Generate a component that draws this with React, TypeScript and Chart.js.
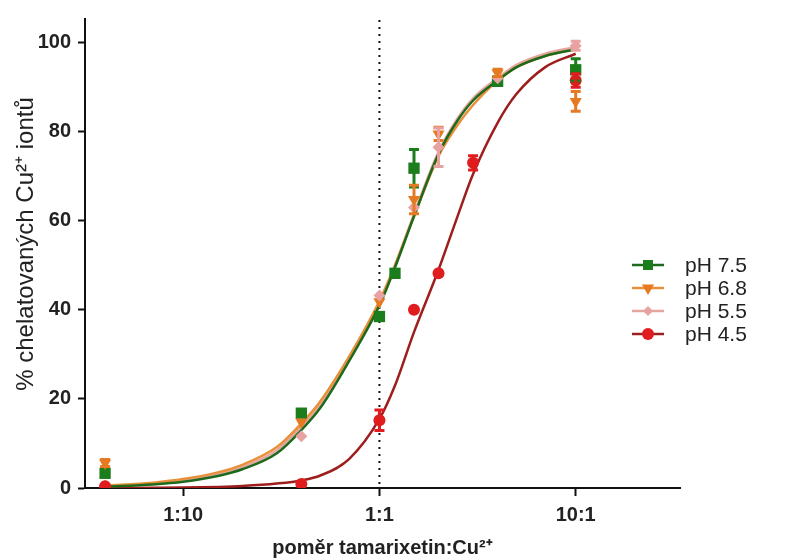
import React, { useEffect, useRef } from "react";
import { Chart, registerables } from "chart.js";

Chart.register(...registerables);

// ---- Data ----
const xTickValues = [0.1, 1, 10];
const xTickLabels = ["1:10", "1:1", "10:1"];
const yTickValues = [0, 20, 40, 60, 80, 100];

const seriesNames = ["pH 7.5", "pH 6.8", "pH 5.5", "pH 4.5"];
const yTitle = "% chelatovaných Cu²⁺ iontů";
const xTitle = "poměr tamarixetin:Cu²⁺";

// measured points
const ph75X = [0.04, 0.4, 1, 1.2, 1.5, 4, 10];
const ph75Y = [3.3, 16.8, 38.5, 48.2, 71.8, 91.3, 93.9];
const ph75Err = [0, 0, 0, 0, 4.2, 0, 2.5];

const ph68X = [0.04, 0.4, 1, 1.5, 2, 4, 10];
const ph68Y = [5.6, 14.8, 41.8, 64.8, 79.5, 93.2, 86.8];
const ph68Err = [0.8, 0, 0, 3.2, 1.5, 0.8, 2.2];

const ph55X = [0.04, 0.4, 1, 1.5, 2, 4, 10];
const ph55Y = [0.5, 11.6, 43.2, 63, 76.5, 92, 99.3];
const ph55Err = [0, 0, 0, 0, 4.3, 0, 1];

const ph45X = [0.04, 0.4, 1, 1.5, 2, 3, 10];
const ph45Y = [0.4, 0.9, 15.2, 40, 48.2, 73, 91.5];
const ph45Err = [0, 0, 2.3, 0, 0, 1.6, 1.5];

// fitted curves, sampled by reading the drawn lines
const curveX = [0.04, 0.07, 0.1, 0.15, 0.2, 0.3, 0.4, 0.5, 0.7, 1, 1.2, 1.5, 2, 2.5, 3, 4, 5, 7, 10];
const curve75 = [0.3, 0.8, 1.4, 2.7, 4.2, 7.8, 13, 18, 28.5, 41, 49.5, 61, 75, 82.5, 87, 91.5, 94.5, 97, 98.5];
const curve68 = [0.5, 1.2, 2.0, 3.5, 5.2, 9.2, 14.5, 19.5, 29.5, 42, 50, 61, 74.5, 81.5, 86, 91.5, 94.5, 97, 98.5];
const curve55 = [0.4, 1.0, 1.7, 3.1, 4.7, 8.5, 13.8, 18.8, 29, 41.5, 50, 61.5, 75.5, 83, 87.5, 92, 95, 97.5, 99];
const curve45 = [0, 0.05, 0.1, 0.25, 0.45, 1.0, 1.7, 2.8, 6.5, 15.5, 23, 35, 49, 61, 70.5, 82, 88.5, 94.5, 97.5];

// ---- styles ----
const markerColors = ["#1b7d1b", "#e67a22", "#e8a2a2", "#e01c1e"];
const lineColors = ["#1d6a1d", "#e8903a", "#e6a6a0", "#9e1d1d"];
const markerStyles = ["rect", "triangle", "rectRot", "circle"];
const markerRot = [0, 180, 0, 0];
const markerRadius = [8, 7, 6, 6];
const FONT = "'Liberation Sans', Arial, sans-serif";

const pts = (xs: number[], ys: number[]) => xs.map((x, i) => ({ x, y: ys[i] }));

export default function App() {
  const ref = useRef<HTMLCanvasElement | null>(null);

  useEffect(() => {
    const canvas = ref.current;
    if (!canvas) return;

    const pointSets = [
      { xs: ph75X, ys: ph75Y, err: ph75Err },
      { xs: ph68X, ys: ph68Y, err: ph68Err },
      { xs: ph55X, ys: ph55Y, err: ph55Err },
      { xs: ph45X, ys: ph45Y, err: ph45Err },
    ];
    const curves = [curve75, curve68, curve55, curve45];

    const datasets: any[] = [];
    pointSets.forEach((s, i) => {
      datasets.push({
        type: "scatter",
        label: seriesNames[i],
        data: pts(s.xs, s.ys),
        errors: s.err,
        pointStyle: markerStyles[i],
        pointRotation: markerRot[i],
        pointRadius: markerRadius[i],
        pointBackgroundColor: markerColors[i],
        pointBorderColor: markerColors[i],
        pointBorderWidth: 0,
        showLine: false,
        order: 1 + (3 - i) * 0.1,
      });
    });
    curves.forEach((c, i) => {
      datasets.push({
        type: "line",
        label: seriesNames[i] + " fit",
        data: pts(curveX, c),
        borderColor: lineColors[i],
        borderWidth: 2.5,
        pointRadius: 0,
        cubicInterpolationMode: "monotone",
        fill: false,
        order: 5 + i * 0.1,
      });
    });

    const overlay = {
      id: "overlay",
      beforeDatasetsDraw(chart: any) {
        const { ctx, chartArea, scales } = chart;
        const x1 = scales.x.getPixelForValue(1);
        ctx.save();
        ctx.strokeStyle = "#111";
        ctx.lineWidth = 2;
        ctx.setLineDash([2, 5]);
        ctx.beginPath();
        ctx.moveTo(x1, chartArea.bottom - 4);
        ctx.lineTo(x1, chartArea.top);
        ctx.stroke();
        ctx.restore();
      },
      afterDatasetsDraw(chart: any) {
        const { ctx, scales } = chart;
        ctx.save();
        chart.data.datasets.forEach((ds: any) => {
          if (!ds.errors) return;
          ds.data.forEach((p: any, k: number) => {
            const e = ds.errors[k];
            if (!e) return;
            const px = scales.x.getPixelForValue(p.x);
            const yt = scales.y.getPixelForValue(p.y + e);
            const yb = scales.y.getPixelForValue(p.y - e);
            ctx.strokeStyle = ds.pointBackgroundColor;
            ctx.lineWidth = 3;
            ctx.beginPath();
            ctx.moveTo(px, yt);
            ctx.lineTo(px, yb);
            ctx.moveTo(px - 5, yt);
            ctx.lineTo(px + 5, yt);
            ctx.moveTo(px - 5, yb);
            ctx.lineTo(px + 5, yb);
            ctx.stroke();
          });
        });
        ctx.restore();
      },
      afterDraw(chart: any) {
        const { ctx } = chart;
        ctx.save();
        // y axis title
        ctx.save();
        ctx.translate(26, 244);
        ctx.rotate(-Math.PI / 2);
        ctx.fillStyle = "#222";
        ctx.font = `24px ${FONT}`;
        ctx.textAlign = "center";
        ctx.textBaseline = "middle";
        ctx.fillText(yTitle, 0, 0);
        ctx.restore();

        // legend
        const lx0 = 632, lx1 = 664, tx = 685;
        const y0 = 265, dy = 23;
        seriesNames.forEach((name, i) => {
          const y = y0 + i * dy;
          ctx.strokeStyle = lineColors[i];
          ctx.lineWidth = 2.5;
          ctx.beginPath();
          ctx.moveTo(lx0, y);
          ctx.lineTo(lx1, y);
          ctx.stroke();
          const mx = (lx0 + lx1) / 2;
          ctx.fillStyle = markerColors[i];
          ctx.beginPath();
          if (markerStyles[i] === "rect") {
            ctx.rect(mx - 5, y - 5, 10, 10);
          } else if (markerStyles[i] === "triangle") {
            const r = 7;
            ctx.moveTo(mx - r * 0.87, y - r * 0.5);
            ctx.lineTo(mx + r * 0.87, y - r * 0.5);
            ctx.lineTo(mx, y + r);
            ctx.closePath();
          } else if (markerStyles[i] === "rectRot") {
            ctx.moveTo(mx, y - 5);
            ctx.lineTo(mx + 5, y);
            ctx.lineTo(mx, y + 5);
            ctx.lineTo(mx - 5, y);
            ctx.closePath();
          } else {
            ctx.arc(mx, y, 6, 0, Math.PI * 2);
          }
          ctx.fill();
          ctx.fillStyle = "#222";
          ctx.font = `21px ${FONT}`;
          ctx.textBaseline = "middle";
          ctx.textAlign = "left";
          ctx.fillText(name, tx, y + 1);
        });
        ctx.restore();
      },
    };

    const chart = new Chart(canvas, {
      type: "scatter",
      data: { datasets },
      options: {
        animation: false,
        responsive: false,
        maintainAspectRatio: false,
        layout: { padding: { left: 0, top: 15, right: 122, bottom: 0 } },
        plugins: { legend: { display: false }, tooltip: { enabled: false } },
        scales: {
          x: {
            type: "logarithmic",
            min: 0.0316,
            max: 34,
            afterBuildTicks(scale: any) {
              scale.ticks = xTickValues.map((v) => ({ value: v }));
            },
            afterFit(scale: any) {
              scale.height = 72;
            },
            ticks: {
              autoSkip: false,
              maxRotation: 0,
              padding: 7,
              color: "#222",
              font: { family: FONT, size: 20, weight: "bold" },
              callback: (v: any) => {
                const i = xTickValues.indexOf(Number(v));
                return i >= 0 ? xTickLabels[i] : "";
              },
            },
            grid: {
              display: true,
              drawOnChartArea: false,
              drawTicks: true,
              tickLength: 8,
              tickWidth: 2,
              tickColor: "#111",
            },
            border: { display: true, color: "#111", width: 2 },
            title: {
              display: true,
              text: xTitle,
              color: "#222",
              font: { family: FONT, size: 20, weight: "bold" },
              padding: { top: 0, bottom: 0 },
            },
          },
          y: {
            type: "linear",
            min: 0,
            max: 105.3,
            afterBuildTicks(scale: any) {
              scale.ticks = yTickValues.map((v) => ({ value: v }));
            },
            afterFit(scale: any) {
              scale.width = 85;
            },
            ticks: {
              padding: 7,
              color: "#222",
              font: { family: FONT, size: 20, weight: "bold" },
            },
            grid: {
              display: true,
              drawOnChartArea: false,
              drawTicks: true,
              tickLength: 7,
              tickWidth: 2,
              tickColor: "#111",
            },
            border: { display: true, color: "#111", width: 2 },
            title: { display: false },
          },
        },
      },
      plugins: [overlay],
    } as any);

    return () => chart.destroy();
  }, []);

  return (
    <div style={{ position: "fixed", left: 0, top: 0, width: 802, height: 560, background: "#fff" }}>
      <canvas ref={ref} width={802} height={560} style={{ width: 802, height: 560 }} />
    </div>
  );
}
